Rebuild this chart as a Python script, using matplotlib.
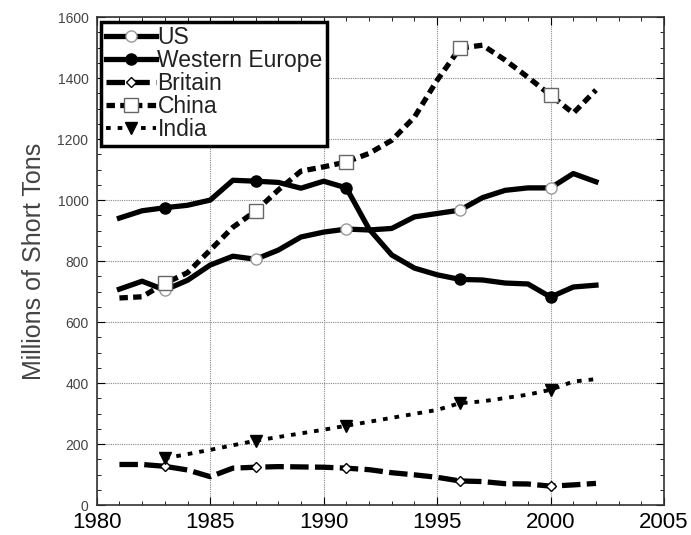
import matplotlib.pyplot as plt
import numpy as np

plt.rcParams['font.family'] = ['Liberation Sans', 'DejaVu Sans']

years = list(range(1981, 2003))
us = [708, 734, 705, 737, 787, 816, 806, 836, 879, 895, 905, 902,
      907, 945, 956, 967, 1008, 1032, 1040, 1040, 1087, 1060]
westEurope = [941, 965, 975, 983, 1000, 1065, 1062, 1058, 1039, 1062, 1040, 905,
              820, 777, 755, 740, 738, 728, 725, 682, 715, 721]
britain = [133, 133, 127, 115, 93, 121, 124, 126, 125, 124, 121, 116,
           106, 99, 91, 79, 77, 70, 69, 62, 66, 71]
china = [679, 683, 727, 762, 836, 911, 964, 1033, 1095, 1109, 1125, 1153,
         1196, 1272, 1393, 1498, 1508, 1459, 1403, 1344, 1285, 1361]
indiaYears = list(range(1983, 2003))
india = [153, 167, 181, 196, 211, 223, 235, 247, 260, 273, 286, 299,
         312, 334, 340, 351, 362, 378, 405, 413]
markYears = [1983, 1987, 1991, 1996, 2000]

def markIdx(yrs):
    return [yrs.index(y) for y in markYears]

fig = plt.figure(figsize=(6.91, 5.35), dpi=100)
ax = fig.add_axes([0.140, 0.056, 0.821, 0.912])

lw = 3.8
ax.plot(years, us, color='black', lw=lw, ls='-', marker='o', markevery=markIdx(years),
        ms=8, mfc='white', mec='#999999', mew=1, label='US')
ax.plot(years, westEurope, color='black', lw=lw, ls='-', marker='o', markevery=markIdx(years),
        ms=8, mfc='black', mec='black', label='Western Europe')
ax.plot(years, britain, color='black', lw=lw, ls=(0, (3.5, 1.2)), marker='D', markevery=markIdx(years),
        ms=5.5, mfc='white', mec='black', mew=1, label='Britain')
ax.plot(years, china, color='black', lw=lw, ls=(0, (1.6, 1.0)), marker='s', markevery=markIdx(years),
        ms=10, mfc='white', mec='#666666', mew=1, label='China')
ax.plot(indiaYears, india, color='black', lw=2.8, ls=(0, (1.2, 1.8)), marker='v', markevery=markIdx(indiaYears),
        ms=8, mfc='black', mec='black', label='India')

ax.set_xlim(1980, 2005)
ax.set_ylim(0, 1600)
ax.set_xticks(np.arange(1980, 2006, 5))
ax.set_yticks(np.arange(0, 1601, 200))
ax.set_xticks(np.arange(1980, 2006, 1), minor=True)
ax.set_yticks(np.arange(0, 1601, 50), minor=True)
ax.grid(True, which='major', color='#888888', ls=(0, (1, 1)), lw=0.8)
ax.tick_params(which='both', direction='in', top=True, right=True)
ax.tick_params(which='major', length=6)
ax.tick_params(which='minor', length=3)
ax.tick_params(axis='x', labelsize=16, pad=5)
ax.tick_params(axis='y', labelsize=10, labelcolor='#444444', pad=6)
for s in ax.spines.values():
    s.set_linewidth(1.2)
    s.set_color('#333333')
ax.set_ylabel('Millions of Short Tons', fontsize=18, color='#444444', labelpad=8)

leg = ax.legend(loc='upper left', fontsize=16.5, handlelength=2.2, handletextpad=0.05,
                labelspacing=0.0, borderpad=0.2, borderaxespad=0.2, fancybox=False,
                framealpha=1)
leg.get_frame().set_edgecolor('black')
leg.get_frame().set_linewidth(2.5)
for t in leg.get_texts():
    t.set_color('#222222')

fig.savefig('out.png')
